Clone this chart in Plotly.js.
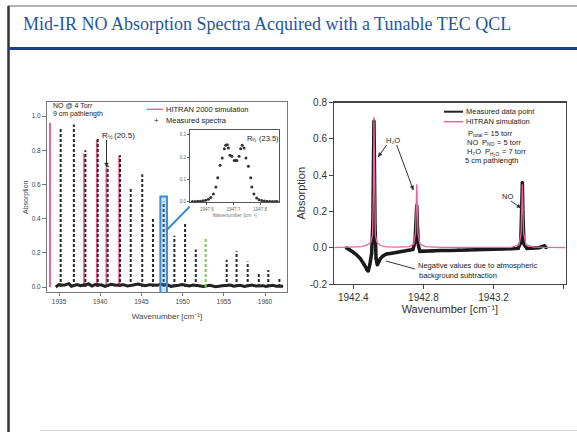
<!DOCTYPE html>
<html><head><meta charset="utf-8">
<script src="https://cdn.plot.ly/plotly-3.0.1.min.js"></script>
<style>html,body{margin:0;padding:0;background:#fff;} #chart{width:577px;height:432px;}</style>
</head><body><div id="chart"></div>
<script>
// ---------- Left panel: NO survey spectrum ----------
const leftXTicks = [1935, 1940, 1945, 1950, 1955, 1960];
const leftYTicks = [0.0, 0.2, 0.4, 0.6, 0.8, 1.0];
const measWn  = [1935.2, 1936.8, 1938.2, 1939.7, 1940.9, 1942.4, 1943.7, 1945.1, 1946.4, 1947.7, 1949.0, 1950.3, 1951.6, 1955.35, 1956.55, 1957.9, 1959.25, 1960.4, 1961.75];
const measVal = [0.93,   0.95,   0.80,   0.87,   0.71,   0.77,   0.58,   0.66,   0.41,   0.50,   0.30,   0.38,   0.22,   0.16,    0.21,    0.15,   0.08,    0.10,   0.05];
const simWn   = [1933.9, 1938.05, 1939.6, 1940.75, 1942.3];
const simVal  = [0.96,   0.78,    0.86,   0.70,    0.77];
const greenWn  = [1952.8];
const greenVal = [0.29];
const baseWn  = [1934.6, 1935.0, 1935.6, 1936.2, 1936.5, 1937.2, 1937.6, 1938.6, 1939.0, 1939.4, 1940.2, 1940.6, 1941.3, 1941.9, 1942.8, 1943.3, 1944.0, 1944.6, 1945.5, 1946.0, 1946.9, 1947.3, 1948.2, 1948.6, 1949.5, 1950.0, 1950.8, 1951.3, 1952.0, 1952.5, 1953.3, 1954.0, 1954.8, 1955.8, 1956.2, 1957.0, 1957.5, 1958.4, 1958.9, 1959.8, 1960.1, 1960.9, 1961.4, 1962.2];
const baseVal = [0.0,    0.015,  0.01,   0.02,   0.005,  0.015,  0.008,  0.018,  0.006,  0.015,  0.012,  0.004,  0.016,  0.01,   0.014,  0.006,  0.012,  0.018,  0.008,  0.014,  0.01,   0.016,  0.012,  0.004,  0.01,   0.015,  0.006,  0.012,  0.008,  0.004,  0.01,   0.002,  0.008,  0.012,  0.005,  0.01,   0.004,  0.012,  0.006,  0.008,  0.003,  0.01,   0.005,  0.004];

// ---------- Inset: R1/2(23.5) doublet ----------
const insetXTicks = [1947.6, 1947.7, 1947.8];
const insetYTicks = [0.0, 0.1, 0.2, 0.3];
const insetWn  = [1947.546, 1947.556, 1947.566, 1947.576, 1947.586, 1947.596, 1947.606, 1947.615, 1947.625, 1947.634, 1947.641, 1947.650, 1947.658, 1947.666, 1947.671, 1947.677, 1947.681, 1947.687, 1947.694, 1947.703, 1947.709, 1947.713, 1947.721, 1947.727, 1947.733, 1947.740, 1947.747, 1947.756, 1947.765, 1947.769, 1947.777, 1947.787, 1947.796, 1947.806, 1947.816, 1947.826, 1947.836, 1947.846, 1947.856, 1947.864];
const insetVal = [0.000,    0.000,    0.001,    0.001,    0.003,    0.005,    0.010,    0.018,    0.033,    0.065,    0.107,    0.163,    0.196,    0.238,    0.253,    0.256,    0.241,    0.208,    0.204,    0.184,    0.184,    0.184,    0.204,    0.238,    0.253,    0.241,    0.196,    0.159,    0.107,    0.065,    0.033,    0.015,    0.008,    0.004,    0.002,    0.001,    0.000,    0.000,    0.000,    0.000];

// ---------- Right panel: H2O / NO high-resolution scan ----------
const rightXTicks = [1942.4, 1942.8, 1943.2, 1943.6];
const rightYTicks = [-0.2, 0.0, 0.2, 0.4, 0.6, 0.8];
const rMeasWn  = [1942.36, 1942.38, 1942.40, 1942.42, 1942.44, 1942.46, 1942.475, 1942.485, 1942.495, 1942.505, 1942.512, 1942.516, 1942.518, 1942.520, 1942.524, 1942.530, 1942.537, 1942.545, 1942.555, 1942.57, 1942.59, 1942.62, 1942.65, 1942.68, 1942.71, 1942.74, 1942.752, 1942.758, 1942.762, 1942.766, 1942.772, 1942.78, 1942.80, 1942.85, 1942.90, 1942.95, 1943.00, 1943.05, 1943.10, 1943.15, 1943.20, 1943.25, 1943.30, 1943.34, 1943.355, 1943.361, 1943.364, 1943.367, 1943.373, 1943.39, 1943.42, 1943.46, 1943.49, 1943.50];
const rMeasVal = [0.0,     -0.01,   -0.025,  -0.04,   -0.06,   -0.09,   -0.12,    -0.13,    -0.09,    -0.03,    0.15,     0.55,     0.70,     0.55,     0.12,     -0.06,    -0.095,   -0.08,    -0.06,    -0.045,  -0.035,  -0.03,   -0.025,  -0.02,   -0.015,  -0.01,   0.03,     0.12,     0.235,    0.12,     0.01,     -0.02,   -0.02,   -0.018,  -0.016,  -0.015,  -0.013,  -0.012,  -0.01,   -0.009,  -0.008,  -0.007,  -0.006,  -0.004,  0.03,     0.2,      0.36,     0.2,      0.02,     -0.004,  -0.004,  0.0,     0.01,    0.0];
const rSimWn  = [1942.29, 1942.40, 1942.45, 1942.48, 1942.50, 1942.51, 1942.515, 1942.518, 1942.521, 1942.526, 1942.535, 1942.555, 1942.59, 1942.65, 1942.72, 1942.745, 1942.755, 1942.762, 1942.769, 1942.78, 1942.81, 1942.9, 1943.3, 1943.345, 1943.357, 1943.364, 1943.371, 1943.385, 1943.43, 1943.61];
const rSimVal = [0.0,     0.002,   0.006,   0.015,   0.03,    0.07,    0.3,      0.72,     0.3,      0.07,     0.03,     0.012,    0.005,   0.003,   0.006,   0.02,     0.08,     0.35,     0.08,     0.02,    0.006,   0.002,  0.002,  0.015,    0.08,     0.35,     0.08,     0.015,    0.003,   0.0];

// ---------- helpers ----------
const W = 577, H = 432;
const PX = p => p / W;
const PY = p => 1 - p / H;
function sticks(xs, ys) {
  const X = [], Y = [];
  xs.forEach((x, i) => { X.push(x, x, null); Y.push(0, ys[i], null); });
  return {X, Y};
}
const FONT = 'Liberation Sans, Arial, sans-serif';
const PINK = '#f0609a';
const WN_TITLE = 'Wavenumber [cm\u207B\u00B9]';

const simS = sticks(simWn, simVal);
const measS = sticks(measWn, measVal);
const greenS = sticks(greenWn, greenVal);

const traces = [
  {x: simS.X, y: simS.Y, xaxis: 'x', yaxis: 'y', mode: 'lines', line: {color: PINK, width: 2}, name: 'HITRAN 2000 simulation', showlegend: false},
  {x: baseWn, y: baseVal, xaxis: 'x', yaxis: 'y', mode: 'lines', line: {color: '#222', width: 3}, showlegend: false},
  {x: measS.X, y: measS.Y, xaxis: 'x', yaxis: 'y', mode: 'lines', line: {color: '#2a2a2a', width: 2, dash: '3px,2px'}, name: 'Measured spectra', showlegend: false},
  {x: greenS.X, y: greenS.Y, xaxis: 'x', yaxis: 'y', mode: 'lines', line: {color: '#79c95a', width: 2, dash: '3px,2px'}, showlegend: false},
  {x: insetWn, y: insetVal, xaxis: 'x3', yaxis: 'y3', mode: 'markers', marker: {color: '#333', size: 3, line: {width: 0}}, showlegend: false},
  {x: rMeasWn, y: rMeasVal, xaxis: 'x2', yaxis: 'y2', mode: 'lines+markers', line: {color: '#1a1a1a', width: 3.5}, marker: {color: '#1a1a1a', size: 3, line: {width: 0}}, name: 'Measured data point', showlegend: false},
  {x: rSimWn, y: rSimVal, xaxis: 'x2', yaxis: 'y2', mode: 'lines', line: {color: PINK, width: 1.3}, name: 'HITRAN simulation', showlegend: false}
];

const axBase = {showgrid: false, zeroline: false, showline: true, mirror: true, ticks: 'outside', automargin: false, fixedrange: true, showspikes: false};

const layout = {
  width: W, height: H, autosize: false,
  margin: {l: 0, r: 0, t: 0, b: 0},
  paper_bgcolor: '#fff', plot_bgcolor: '#fff',
  showlegend: false, hovermode: false,
  font: {family: FONT, color: '#333'},
  xaxis: Object.assign({}, axBase, {
    domain: [PX(47), PX(287)], range: [1933.54, 1962.67], anchor: 'y',
    tickvals: leftXTicks, ticktext: leftXTicks.map(String),
    linecolor: '#777', linewidth: 1, ticklen: 3, tickcolor: '#777',
    tickfont: {size: 6.5, color: '#444'},
    title: {text: WN_TITLE, font: {size: 8, color: '#444'}, standoff: 9}
  }),
  yaxis: Object.assign({}, axBase, {
    domain: [PY(292), PY(102)], range: [-0.029, 1.082], anchor: 'x',
    tickvals: leftYTicks, ticktext: leftYTicks.map(v => v.toFixed(1)),
    linecolor: '#777', linewidth: 1, ticklen: 4, tickcolor: '#777',
    tickfont: {size: 6.5, color: '#444'}
  }),
  xaxis2: Object.assign({}, axBase, {
    domain: [PX(334.3), PX(565.5)], range: [1942.292, 1943.61], anchor: 'y2',
    tickvals: rightXTicks, ticktext: rightXTicks.map(v => v.toFixed(1)),
    linecolor: '#444', linewidth: 1.3, ticklen: 4, tickcolor: '#444',
    tickfont: {size: 10, color: '#333'},
    title: {text: WN_TITLE, font: {size: 11, color: '#333'}, standoff: 0}
  }),
  yaxis2: Object.assign({}, axBase, {
    domain: [PY(284), PY(102.5)], range: [-0.2, 0.8], anchor: 'x2',
    tickvals: rightYTicks, ticktext: rightYTicks.map(v => v.toFixed(1)),
    linecolor: '#444', linewidth: 1.3, ticklen: 4, tickcolor: '#444',
    tickfont: {size: 10, color: '#333'},
    title: {text: 'Absorption', font: {size: 11, color: '#333'}, standoff: 2}
  }),
  xaxis3: Object.assign({}, axBase, {
    domain: [PX(190), PX(279)], range: [1947.537, 1947.871], anchor: 'y3',
    tickvals: insetXTicks, ticktext: insetXTicks.map(v => v.toFixed(1)),
    linecolor: '#555', linewidth: 1, ticklen: 2, tickcolor: '#555',
    tickfont: {size: 4.5, color: '#666'},
    title: {text: WN_TITLE, font: {size: 5, color: '#777'}, standoff: 1}
  }),
  yaxis3: Object.assign({}, axBase, {
    domain: [PY(202.3), PY(130)], range: [-0.004, 0.322], anchor: 'x3',
    tickvals: insetYTicks, ticktext: insetYTicks.map(v => v.toFixed(1)),
    linecolor: '#555', linewidth: 1, ticklen: 2, tickcolor: '#555',
    tickfont: {size: 4.5, color: '#666'}
  }),
  shapes: [
    // slide frame
    {type: 'line', xref: 'paper', yref: 'paper', x0: PX(8), x1: 1, y0: PY(6), y1: PY(6), line: {color: '#666', width: 1}},
    {type: 'line', xref: 'paper', yref: 'paper', x0: PX(8.5), x1: PX(8.5), y0: PY(6), y1: 0, line: {color: '#333', width: 2.5}},
    {type: 'line', xref: 'paper', yref: 'paper', x0: PX(8), x1: 1, y0: PY(48.5), y1: PY(48.5), line: {color: '#1d3f88', width: 3}},
    {type: 'line', xref: 'paper', yref: 'paper', x0: PX(40), x1: 1, y0: PY(430.5), y1: PY(430.5), line: {color: '#d0d0d0', width: 1}},
    // highlighted line & connector to inset
    {type: 'rect', xref: 'x', yref: 'y', x0: 1947.3, x1: 1948.1, y0: -0.05, y1: 0.53, line: {color: '#3a8ed8', width: 2}, fillcolor: 'rgba(90,160,225,0.30)'},
    {type: 'line', xref: 'x', yref: 'y', x0: 1948.0, y0: 0.33, x1: 1950.85, y1: 0.47, line: {color: '#2f86d0', width: 2}},
    // left legend sample
    {type: 'line', xref: 'paper', yref: 'paper', x0: PX(147), x1: PX(163), y0: PY(109.3), y1: PY(109.3), line: {color: PINK, width: 1.5}},
    // right legend samples
    {type: 'line', xref: 'paper', yref: 'paper', x0: PX(444), x1: PX(463), y0: PY(111.7), y1: PY(111.7), line: {color: '#222', width: 2}},
    {type: 'line', xref: 'paper', yref: 'paper', x0: PX(444), x1: PX(463), y0: PY(121.7), y1: PY(121.7), line: {color: PINK, width: 1.5}}
  ],
  annotations: []
};

function arrowShapes(tipX, tipY, tailX, tailY, head) {
  const out = [{type: 'line', xref: 'paper', yref: 'paper', x0: PX(tailX), y0: PY(tailY), x1: PX(tipX), y1: PY(tipY), line: {color: '#333', width: 1}}];
  if (head !== false) {
    const dx = tipX - tailX, dy = tipY - tailY, L = Math.hypot(dx, dy), ux = dx / L, uy = dy / L;
    const s = 4, w = 1.8;
    const bx = tipX - ux * s, by = tipY - uy * s;
    const p1 = [bx - uy * w, by + ux * w], p2 = [bx + uy * w, by - ux * w];
    out.push({type: 'path', xref: 'paper', yref: 'paper',
      path: `M ${PX(tipX)} ${PY(tipY)} L ${PX(p1[0])} ${PY(p1[1])} L ${PX(p2[0])} ${PY(p2[1])} Z`,
      fillcolor: '#333', line: {color: '#333', width: 0.5}});
  }
  return out;
}
layout.shapes.push(
  ...arrowShapes(106.5, 167, 106.5, 140),
  ...arrowShapes(378.3, 156.7, 386.7, 145),
  ...arrowShapes(413.3, 190, 396.7, 145),
  ...arrowShapes(521, 208, 511, 201),
  ...arrowShapes(386, 261, 415, 269, false)
);

function txt(text, x, y, size, opts) {
  return Object.assign({text: text, xref: 'paper', yref: 'paper', x: PX(x), y: PY(y), xanchor: 'left', yanchor: 'middle', showarrow: false, borderpad: 0, font: {family: FONT, size: size, color: '#222'}}, opts || {});
}
// text run with manual subscripts (measured with canvas so parts sit side by side)
const mctx = document.createElement('canvas').getContext('2d');
function tw(t, size) { mctx.font = size + 'px "Liberation Sans", Arial, sans-serif'; return mctx.measureText(t).width; }
function run(parts, x, y) {
  let cx = x;
  parts.forEach(p => {
    cx += (p.gap || 0);
    layout.annotations.push(txt(p.t, cx, y + (p.dy || 0), p.size));
    cx += tw(p.t, p.size);
  });
}

layout.annotations.push(
  {text: 'Mid-IR NO Absorption Spectra Acquired with a Tunable TEC QCL', xref: 'paper', yref: 'paper', x: PX(267), y: PY(24), xanchor: 'center', yanchor: 'middle', showarrow: false, font: {family: 'Liberation Serif, Times New Roman, serif', size: 18, color: '#1f55a6'}},
  // left panel texts
  txt('Absorption', 26, 197, 7, {textangle: -90, xanchor: 'center', font: {family: FONT, size: 7, color: '#444'}}),
  txt('NO @ 4 Torr', 51.5, 105, 7),
  txt('9 cm pathlength', 51.5, 114, 7),
  txt('HITRAN 2000 simulation', 165, 109.3, 7.5),
  txt('+', 152.5, 120, 8),
  txt('Measured spectra', 165, 120, 7.5),
  // right panel legend
  txt('Measured data point', 465, 111.7, 7.5),
  txt('HITRAN simulation', 465, 121.7, 7.5),
  txt('5 cm pathlength', 464, 160.7, 7.5),
  // right panel callouts
  txt('H\u2082O', 385, 140, 7.5),
  txt('NO', 501, 196, 7.5),
  txt('Negative values due to atmospheric', 416.7, 265, 7.5),
  txt('background subtraction', 418, 275.7, 7.5)
);
run([{t: 'R', size: 8}, {t: '½', size: 5.5, dy: 2.5}, {t: '(20.5)', size: 8, gap: 2}], 101, 135);
run([{t: 'R', size: 7.5}, {t: '½', size: 5, dy: 2.5}, {t: '(23.5)', size: 7.5, gap: 2}], 246, 138);
run([{t: 'P', size: 7.5}, {t: 'total', size: 5, dy: 2}, {t: '= 15 torr', size: 7.5, gap: 2}], 467, 133);
run([{t: 'NO', size: 7.5}, {t: 'P', size: 7.5, gap: 4}, {t: 'NO', size: 5, dy: 2}, {t: '= 5 torr', size: 7.5, gap: 2}], 466, 142);
run([{t: 'H\u2082O', size: 7.5}, {t: 'P', size: 7.5, gap: 4}, {t: 'H\u2082O', size: 5, dy: 2}, {t: '= 7 torr', size: 7.5, gap: 2}], 466, 151.7);

Plotly.newPlot('chart', traces, layout, {staticPlot: true, displayModeBar: false});
</script>
</body></html>
